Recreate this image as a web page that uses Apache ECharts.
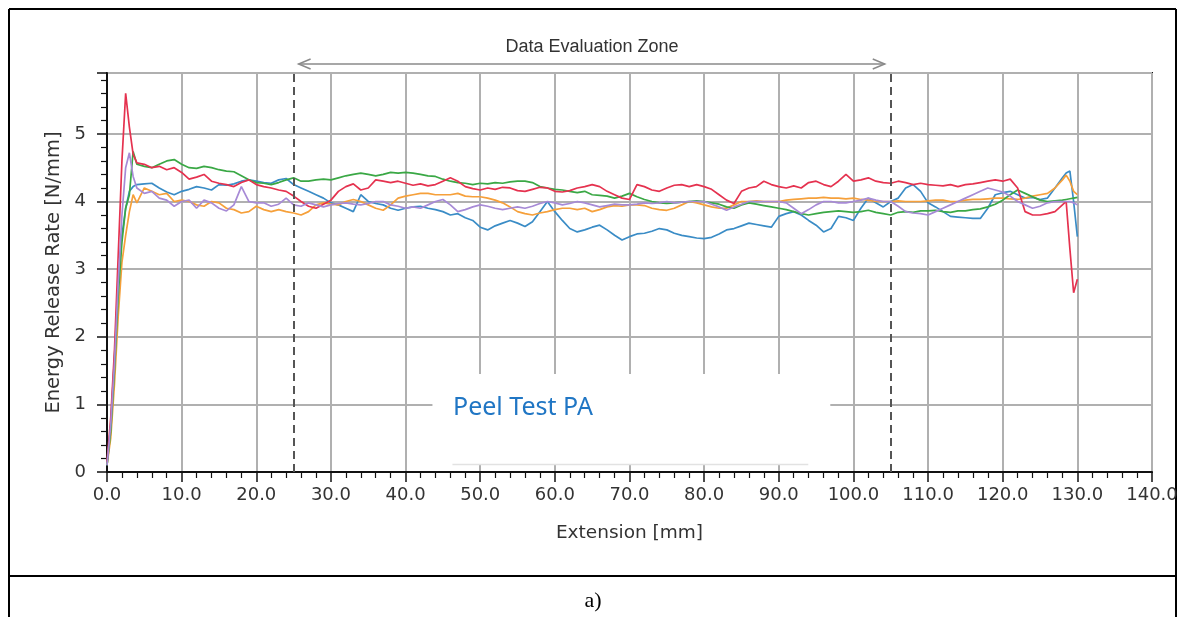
<!DOCTYPE html>
<html>
<head>
<meta charset="utf-8">
<script src="https://cdn.jsdelivr.net/npm/echarts@6/dist/echarts.min.js"></script>
<style>
  html, body { margin: 0; padding: 0; background: #fff; }
  #peel-chart { width: 1186px; height: 617px; }
</style>
</head>
<body>
<div id="peel-chart"></div>
<script>
//----------------------Data----------------------
// extension [mm] sample positions shared by every run
let extension = [0, 0.5, 1, 1.5, 2, 2.5, 3, 3.5, 4,
    5, 6, 7, 8, 9, 10, 11, 12, 13, 14,
    15, 16, 17, 18, 19, 20, 21, 22, 23, 24,
    25, 26, 27, 28, 29, 30, 31, 32, 33, 34,
    35, 36, 37, 38, 39, 40, 41, 42, 43, 44,
    45, 46, 47, 48, 49, 50, 51, 52, 53, 54,
    55, 56, 57, 58, 59, 60, 61, 62, 63, 64,
    65, 66, 67, 68, 69, 70, 71, 72, 73, 74,
    75, 76, 77, 78, 79, 80, 81, 82, 83, 84,
    85, 86, 87, 88, 89, 90, 91, 92, 93, 94,
    95, 96, 97, 98, 99, 100, 101, 102, 103, 104,
    105, 106, 107, 108, 109, 110, 111, 112, 113, 114,
    115, 116, 117, 118, 119, 120, 121, 122, 123, 124,
    125, 126, 127, 128, 128.5, 129, 129.5, 130];

// energy release rate [N/mm], one array per specimen
let run_blue = [0.1, 0.7, 1.7, 2.8, 3.5, 3.9, 4.15, 4.22, 4.25,
    4.26, 4.27, 4.2, 4.14, 4.1, 4.15, 4.18, 4.22, 4.2, 4.17,
    4.25, 4.24, 4.26, 4.3, 4.32, 4.3, 4.28, 4.27, 4.32, 4.34,
    4.25, 4.2, 4.15, 4.1, 4.05, 3.98, 3.95, 3.9, 3.85, 4.1,
    4.0, 3.97, 3.95, 3.9, 3.87, 3.9, 3.92, 3.93, 3.9, 3.88,
    3.85, 3.8, 3.82, 3.76, 3.72, 3.62, 3.58, 3.64, 3.68, 3.72,
    3.68, 3.63, 3.7, 3.85, 4.0, 3.85, 3.72, 3.6, 3.55, 3.58,
    3.62, 3.65, 3.58, 3.5, 3.43, 3.48, 3.52, 3.53, 3.56, 3.6,
    3.58, 3.53, 3.5, 3.48, 3.46, 3.45, 3.47, 3.52, 3.58, 3.6,
    3.64, 3.68, 3.66, 3.64, 3.62, 3.78, 3.82, 3.85, 3.8, 3.72,
    3.65, 3.55, 3.6, 3.78, 3.76, 3.72, 3.9, 4.05, 3.98, 3.92,
    4.0, 4.05, 4.2, 4.25, 4.15, 3.98, 3.92, 3.85, 3.78, 3.77,
    3.76, 3.75, 3.75, 3.9, 4.1, 4.13, 4.15, 4.1, 4.05, 4.06,
    4.03, 4.05, 4.2, 4.35, 4.42, 4.45, 4.0, 3.48];

let run_orange = [0.1, 0.5, 1.3, 2.3, 3.1, 3.5, 3.85, 4.1, 3.98,
    4.2, 4.15, 4.1, 4.12, 4.0, 4.02, 4.0, 3.95, 3.93, 4.0,
    3.98, 3.9, 3.88, 3.83, 3.85, 3.93, 3.88, 3.85, 3.88, 3.85,
    3.83, 3.8, 3.85, 3.95, 3.98, 3.96, 3.95, 4.0, 4.03, 4.0,
    3.95, 3.9, 3.87, 3.95, 4.05, 4.08, 4.1, 4.12, 4.12, 4.1,
    4.1, 4.1, 4.12, 4.08, 4.07, 4.07, 4.05, 4.02, 3.98, 3.92,
    3.85, 3.82, 3.8, 3.83, 3.85, 3.88, 3.9, 3.9, 3.88, 3.9,
    3.85, 3.88, 3.92, 3.94, 3.93, 3.95, 3.95, 3.94, 3.9, 3.88,
    3.87, 3.9, 3.95, 4.0, 3.98, 3.95, 3.92, 3.9, 3.9, 3.95,
    4.0, 4.0, 4.01, 4.0, 4.0, 4.0, 4.02, 4.03, 4.04, 4.05,
    4.05, 4.06, 4.05, 4.05, 4.04, 4.05, 4.03, 4.02, 4.0, 4.0,
    4.0, 4.01, 4.0, 4.0, 4.0, 4.01, 4.02, 4.02, 4.0, 4.0,
    4.02, 4.03, 4.03, 4.04, 4.05, 4.05, 4.04, 4.03, 4.05, 4.08,
    4.1, 4.12, 4.2, 4.32, 4.39, 4.3, 4.15, 4.1];

let run_green = [0.1, 0.6, 1.5, 2.6, 3.4, 3.9, 4.1, 4.74, 4.55,
    4.52, 4.5, 4.55, 4.6, 4.62, 4.55, 4.5, 4.49, 4.52, 4.5,
    4.47, 4.45, 4.44, 4.38, 4.32, 4.28, 4.27, 4.25, 4.28, 4.32,
    4.35, 4.3, 4.3, 4.32, 4.33, 4.32, 4.35, 4.38, 4.4, 4.42,
    4.4, 4.38, 4.4, 4.43, 4.42, 4.43, 4.42, 4.4, 4.38, 4.37,
    4.33, 4.3, 4.28, 4.27, 4.25, 4.27, 4.26, 4.28, 4.27, 4.29,
    4.3, 4.3, 4.28, 4.22, 4.2, 4.18, 4.17, 4.15, 4.13, 4.15,
    4.1, 4.09, 4.08, 4.05, 4.08, 4.12, 4.07, 4.03, 4.0, 3.98,
    3.97, 3.98, 3.99, 4.0, 4.01, 4.0, 3.98, 3.96, 3.92, 3.9,
    3.95, 3.98, 3.96, 3.94, 3.92, 3.9, 3.88, 3.85, 3.82, 3.8,
    3.82, 3.84, 3.85, 3.86, 3.85, 3.84, 3.85, 3.87, 3.84, 3.82,
    3.8, 3.84, 3.85, 3.84, 3.86, 3.86, 3.87, 3.85, 3.84, 3.86,
    3.86, 3.88, 3.89, 3.92, 3.96, 4.02, 4.1, 4.17, 4.12, 4.07,
    4.02, 4.0, 4.01, 4.02, 4.03, 4.04, 4.05, 4.06];

let run_red = [0.15, 0.8, 1.8, 3.2, 4.6, 5.6, 5.1, 4.7, 4.57,
    4.55, 4.5, 4.52, 4.47, 4.5, 4.43, 4.33, 4.36, 4.4, 4.3,
    4.27, 4.25, 4.22, 4.28, 4.32, 4.25, 4.22, 4.2, 4.17, 4.15,
    4.08, 4.0, 3.93, 3.9, 3.96, 4.02, 4.15, 4.22, 4.26, 4.17,
    4.2, 4.32, 4.3, 4.28, 4.3, 4.27, 4.24, 4.26, 4.23, 4.25,
    4.3, 4.35, 4.3, 4.22, 4.19, 4.17, 4.2, 4.18, 4.21, 4.2,
    4.16, 4.15, 4.18, 4.21, 4.2, 4.15, 4.14, 4.16, 4.2, 4.22,
    4.25, 4.22, 4.15, 4.1, 4.05, 4.03, 4.25, 4.22, 4.17, 4.15,
    4.2, 4.24, 4.25, 4.22, 4.25, 4.22, 4.18, 4.1, 4.02, 3.97,
    4.15, 4.2, 4.22, 4.3, 4.25, 4.22, 4.2, 4.23, 4.2, 4.28,
    4.3, 4.25, 4.22, 4.3, 4.4, 4.3, 4.32, 4.35, 4.3, 4.28,
    4.27, 4.3, 4.28, 4.25, 4.27, 4.25, 4.24, 4.23, 4.25, 4.22,
    4.25, 4.26, 4.28, 4.3, 4.32, 4.3, 4.33, 4.2, 3.85, 3.8,
    3.8, 3.82, 3.85, 3.95, 4.0, 3.3, 2.65, 2.85];

let run_purple = [0.1, 0.7, 1.6, 2.8, 3.8, 4.5, 4.72, 4.37, 4.2,
    4.12, 4.15, 4.05, 4.02, 3.93, 4.0, 4.02, 3.9, 4.02, 3.98,
    3.9, 3.86, 3.95, 4.22, 4.0, 3.98, 3.98, 3.93, 3.96, 4.05,
    3.95, 3.93, 3.98, 3.95, 3.92, 3.95, 3.97, 3.98, 3.96, 3.95,
    3.97, 4.0, 4.0, 3.95, 3.93, 3.9, 3.92, 3.9, 3.95, 4.0,
    4.03, 3.95, 3.85, 3.88, 3.92, 3.95, 3.93, 3.9, 3.88, 3.9,
    3.92, 3.9, 3.93, 3.97, 4.0, 3.98, 3.95, 3.97, 4.0, 3.98,
    3.95, 3.92, 3.94, 3.96, 3.95, 3.95, 3.96, 3.98, 3.97, 3.98,
    4.0, 3.98, 3.99, 4.0, 4.0, 4.0, 3.96, 3.92, 3.87, 3.92,
    3.96, 4.0, 4.0, 4.0, 4.0, 4.0, 3.98, 3.9, 3.82, 3.88,
    3.95, 4.0, 4.0, 3.98, 3.98, 4.0, 4.02, 4.05, 4.02, 4.0,
    4.0, 3.93, 3.85, 3.83, 3.82, 3.8, 3.85, 3.9, 3.95, 4.0,
    4.05, 4.1, 4.15, 4.2, 4.17, 4.14, 4.08, 4.0, 3.95, 3.9,
    3.93, 3.98, 4.0, 4.0, 4.0, 4.0, 3.98, 3.95];

// evaluation zone limits [mm]
let zone_limits = [25, 105];
let x_ticks = {min: 0, max: 140, interval: 10};
let y_ticks = {min: 0, max: 5.9, interval: 1};

//--------------------Location--------------------
let peel_chart_dom = document.getElementById("peel-chart");
let peel_chart = echarts.init(peel_chart_dom, null, {renderer: 'canvas'});
let tick_font = "DejaVu Sans";

let peel_chart_grid = {
    left: 107,
    right: 34,
    top: 73,
    bottom: 145,
    show: true,
    borderColor: '#111',
    borderWidth: 2,
    backgroundColor: 'transparent'
};

//----------------------Axis----------------------
let peel_chart_xAxis = {
    type: 'value',
    min: x_ticks.min,
    max: x_ticks.max,
    interval: x_ticks.interval,
    name: 'Extension [mm]',
    nameLocation: 'middle',
    nameGap: 52,
    nameTextStyle: {fontFamily: tick_font, fontSize: 18.5, color: '#333'},
    axisLine: {onZero: false, lineStyle: {color: '#111', width: 2}},
    axisTick: {show: true, inside: false, length: 10, lineStyle: {color: '#111', width: 1.5}},
    minorTick: {show: true, splitNumber: 5, length: 6, lineStyle: {color: '#111', width: 1.2}},
    axisLabel: {
        margin: 14,
        fontFamily: tick_font,
        fontSize: 18,
        color: '#333',
        formatter: function (v) { return v.toFixed(1); }
    },
    splitLine: {show: true, lineStyle: {color: '#b0b0b0', width: 2}}
};
let peel_chart_yAxis = {
    type: 'value',
    min: y_ticks.min,
    max: y_ticks.max,
    interval: y_ticks.interval,
    name: 'Energy Release Rate [N/mm]',
    nameLocation: 'middle',
    nameGap: 40,
    nameTextStyle: {fontFamily: tick_font, fontSize: 19.5, color: '#333'},
    axisLine: {show: true, lineStyle: {color: '#111', width: 2}},
    axisTick: {show: true, inside: false, length: 10, lineStyle: {color: '#111', width: 1.5}},
    minorTick: {show: true, splitNumber: 5, length: 6, lineStyle: {color: '#111', width: 1.2}},
    axisLabel: {
        margin: 21,
        fontFamily: tick_font,
        fontSize: 18,
        color: '#333',
        showMaxLabel: false,
        formatter: function (v) { return Number.isInteger(v) ? String(v) : ''; }
    },
    splitLine: {show: true, lineStyle: {color: '#b0b0b0', width: 2}}
};

//---------------------Series---------------------
let run_list = [
    {name: 'Run 1', values: run_blue, color: '#3a8cc6'},
    {name: 'Run 2', values: run_orange, color: '#f6a03a'},
    {name: 'Run 3', values: run_green, color: '#3aa845'},
    {name: 'Run 4', values: run_red, color: '#e5324f'},
    {name: 'Run 5', values: run_purple, color: '#a78ad6'}
];
function to_peel_series_list(in_runs) {
    let out_list = [];
    for (let i = 0; i < in_runs.length; i++) {
        let pairs = [];
        for (let k = 0; k < extension.length; k++) {
            pairs.push([extension[k], in_runs[i].values[k]]);
        }
        out_list.push({
            type: 'line',
            name: in_runs[i].name,
            data: pairs,
            showSymbol: false,
            symbol: 'none',
            smooth: false,
            z: 3,
            lineStyle: {color: in_runs[i].color, width: 1.7},
            itemStyle: {color: in_runs[i].color}
        });
    }
    // dashed limits of the evaluation zone
    out_list[0].markLine = {
        silent: true,
        symbol: 'none',
        label: {show: false},
        lineStyle: {type: [8, 5], color: '#555', width: 2},
        data: zone_limits.map(function (v) { return {xAxis: v}; })
    };
    return out_list;
}
let peel_series_list = to_peel_series_list(run_list);

//------------------Generate Graph------------------
let peel_chart_option = {
    backgroundColor: '#fff',
    animation: false,
    grid: peel_chart_grid,
    xAxis: peel_chart_xAxis,
    yAxis: peel_chart_yAxis,
    series: peel_series_list,
    tooltip: {show: false}
};
peel_chart.setOption(peel_chart_option, true);

//------------------Annotations------------------
// arrow over the evaluation zone, placed from the axis scale
let arrow_left = peel_chart.convertToPixel({xAxisIndex: 0}, zone_limits[0]) + 5;
let arrow_right = peel_chart.convertToPixel({xAxisIndex: 0}, zone_limits[1]) - 6;
let arrow_y = 64;
let label_box_left = peel_chart.convertToPixel({xAxisIndex: 0}, 43.6);
let label_box_right = peel_chart.convertToPixel({xAxisIndex: 0}, 96.9);
let label_box_top = peel_chart.convertToPixel({yAxisIndex: 0}, 1.45);
let label_box_bottom = peel_chart.convertToPixel({yAxisIndex: 0}, 0.11);
let arrow_style = {stroke: '#8a8a8a', lineWidth: 1.5, fill: null};

peel_chart.setOption({
    graphic: [
        // page frame of the figure table
        {type: 'line', shape: {x1: 9, y1: 9, x2: 1176, y2: 9}, style: {stroke: '#000', lineWidth: 2}},
        {type: 'line', shape: {x1: 9, y1: 9, x2: 9, y2: 617}, style: {stroke: '#000', lineWidth: 2}},
        {type: 'line', shape: {x1: 1176, y1: 9, x2: 1176, y2: 617}, style: {stroke: '#000', lineWidth: 2}},
        {type: 'line', shape: {x1: 9, y1: 576, x2: 1176, y2: 576}, style: {stroke: '#000', lineWidth: 2}},
        {type: 'text', x: 593, y: 601, style: {text: 'a)', font: '22px "Liberation Serif"', fill: '#000', textAlign: 'center', textVerticalAlign: 'middle'}},
        // zone title and arrow
        {type: 'text', x: 592, y: 47, style: {text: 'Data Evaluation Zone', font: '18px "Liberation Sans"', fill: '#333', textAlign: 'center', textVerticalAlign: 'middle'}},
        {type: 'line', shape: {x1: arrow_left, y1: arrow_y, x2: arrow_right, y2: arrow_y}, style: arrow_style},
        {type: 'polyline', shape: {points: [[arrow_left + 12, arrow_y - 5], [arrow_left, arrow_y], [arrow_left + 12, arrow_y + 5]]}, style: arrow_style},
        {type: 'polyline', shape: {points: [[arrow_right - 12, arrow_y - 5], [arrow_right, arrow_y], [arrow_right - 12, arrow_y + 5]]}, style: arrow_style},
        // white label box over the grid
        {type: 'rect', z: 5, shape: {x: label_box_left, y: label_box_top, width: label_box_right - label_box_left, height: label_box_bottom - label_box_top}, style: {fill: '#fff'}},
        {type: 'line', z: 6, shape: {x1: label_box_left + 20, y1: label_box_bottom, x2: label_box_right - 22, y2: label_box_bottom}, style: {stroke: '#e2e2e2', lineWidth: 1.5}},
        {type: 'text', z: 7, x: 453, y: 408, style: {text: 'Peel Test PA', font: '25px "Noto Sans"', fill: '#2076c4', textAlign: 'left', textVerticalAlign: 'middle'}}
    ]
});
</script>
</body>
</html>
